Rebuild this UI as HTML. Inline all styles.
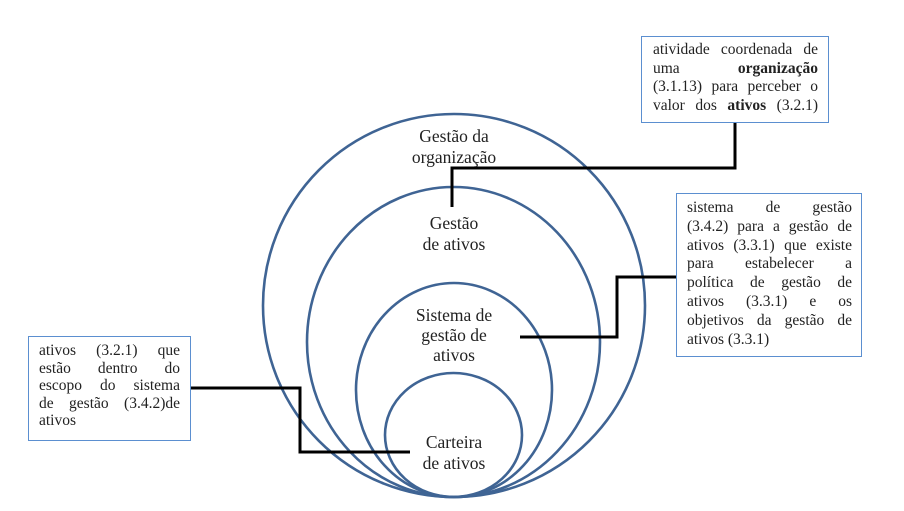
<!DOCTYPE html>
<html><head><meta charset="utf-8"><style>
body{margin:0;width:904px;height:511px;background:#fff;position:relative;overflow:hidden;font-family:"Liberation Serif",serif;}
svg{position:absolute;left:0;top:0}
.box{position:absolute;box-sizing:border-box;border:1.5px solid #5b8fd0;background:#fff;color:#222;font-size:15.5px;}
.box div{text-align:justify;text-align-last:justify;white-space:nowrap;}
.box div.l{text-align-last:left;}
</style></head><body>
<svg width="904" height="511">
<g fill="none" stroke="#3f6494" stroke-width="2.6">
<ellipse cx="454" cy="305.5" rx="191" ry="191.5"/>
<ellipse cx="453.5" cy="342" rx="146.5" ry="155"/>
<ellipse cx="454" cy="390" rx="98" ry="107"/>
<ellipse cx="453.5" cy="435" rx="68.5" ry="62"/>
</g>
<g fill="none" stroke="#000" stroke-width="3">
<polyline points="452,207 452,168 735,168 735,122"/>
<polyline points="520,337 617,337 617,277 677,277"/>
<polyline points="190,388 300,388 300,452 410,452"/>
</g>
<g font-family="Liberation Serif, serif" font-size="17.5" fill="#222" text-anchor="middle">
<text x="454" y="142">Gestão da</text>
<text x="454" y="163">organização</text>
<text x="454" y="229">Gestão</text>
<text x="454" y="250">de ativos</text>
<text x="454" y="321">Sistema de</text>
<text x="454" y="341">gestão de</text>
<text x="454" y="361">ativos</text>
<text x="454" y="448">Carteira</text>
<text x="454" y="469">de ativos</text>
</g>
</svg>
<div class="box" style="left:641px;top:36px;width:188px;height:87px;padding:4px 10px 0 11px;line-height:18.5px;">
<div>atividade coordenada de</div><div>uma <b>organização</b></div><div>(3.1.13) para perceber o</div><div>valor dos <b>ativos</b> (3.2.1)</div></div>
<div class="box" style="left:676px;top:193px;width:186px;height:164px;padding:5px 9px 0 10px;line-height:18.8px;">
<div>sistema de gestão</div><div>(3.4.2) para a gestão de</div><div>ativos (3.3.1) que existe</div><div>para estabelecer a</div><div>política de gestão de</div><div>ativos (3.3.1) e os</div><div>objetivos da gestão de</div><div class="l">ativos (3.3.1)</div></div>
<div class="box" style="left:28px;top:336px;width:163px;height:105px;padding:5px 10px 0 10px;line-height:17.6px;">
<div>ativos (3.2.1) que</div><div>estão dentro do</div><div>escopo do sistema</div><div>de gestão (3.4.2)de</div><div class="l">ativos</div></div>
</body></html>
